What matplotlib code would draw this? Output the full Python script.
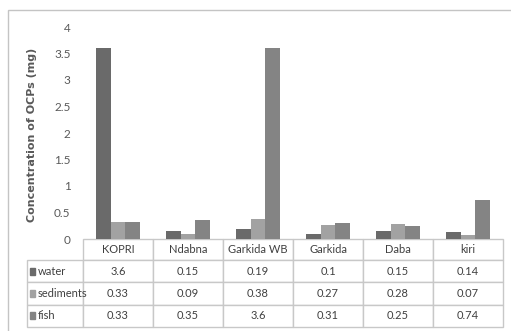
import matplotlib.pyplot as plt
import numpy as np
from matplotlib.table import Table
from matplotlib.patches import Rectangle

# Data
sites = ['KOPRI', 'Ndabna', 'Garkida WB', 'Garkida', 'Daba', 'kiri']
water = [3.6, 0.15, 0.19, 0.1, 0.15, 0.14]
sediments = [0.33, 0.09, 0.38, 0.27, 0.28, 0.07]
fish = [0.33, 0.35, 3.6, 0.31, 0.25, 0.74]
series_names = ['water', 'sediments', 'fish']
colors = ['#6a6a6a', '#a2a2a2', '#848484']

plt.rcParams['font.family'] = ['Lato', 'DejaVu Sans']

fig = plt.figure(figsize=(5.11, 3.31), dpi=100)
W, H = 511, 331
AW, AH = 420, 212
ax = fig.add_axes([83 / W, (H - 239) / H, AW / W, AH / H])

# outer chart border
fig.patches.append(Rectangle((8 / W, -0.05), 1.2, (H - 10) / H + 0.05,
                             transform=fig.transFigure, fill=False,
                             edgecolor='#c4c4c4', linewidth=1))

# Bars
x = np.arange(len(sites))
w = 0.21
all_series = [water, sediments, fish]
for i, vals in enumerate(all_series):
    ax.bar(x + (i - 1) * w, vals, width=w, color=colors[i], label=series_names[i])

ax.set_xlim(-0.5, len(sites) - 0.5)
ax.set_ylim(0, 4)
ax.set_yticks(np.arange(0, 4.01, 0.5))
ax.set_yticklabels(['0', '0.5', '1', '1.5', '2', '2.5', '3', '3.5', '4'])
ax.tick_params(axis='y', length=0, pad=9, labelsize=8.5, labelcolor='#595959')
ax.set_xticks([])
for s in ax.spines.values():
    s.set_visible(False)

fig.text(32 / W, (H - 135) / H, 'Concentration of OCPs (mg)', rotation=90,
         ha='center', va='center', fontsize=8, fontweight='bold',
         color='#595959', family='DejaVu Sans')

# Data table under the plot (sizes in axes fraction)
head_h = 21 / AH
row_h = 22.3 / AH
col_w = 70 / AW
lab_w = 56 / AW
tbl = Table(ax, bbox=[0, -(head_h + 3 * row_h), 1, head_h + 3 * row_h])
edge = '#c8c8c8'
txt_color = '#404040'
for j, name in enumerate(sites):
    c = tbl.add_cell(0, j, width=col_w, height=head_h, text=name, loc='center')
    c.set_edgecolor(edge)
    c.get_text().set_color(txt_color)
for i, vals in enumerate(all_series):
    c = tbl.add_cell(i + 1, -1, width=lab_w, height=row_h, text='')
    c.set_edgecolor(edge)
    for j, v in enumerate(vals):
        c = tbl.add_cell(i + 1, j, width=col_w, height=row_h, text=str(v), loc='center')
        c.set_edgecolor(edge)
        c.get_text().set_color(txt_color)
tbl.auto_set_font_size(False)
tbl.set_fontsize(8)
ax.add_table(tbl)

# legend keys and series names in the row label cells
for i in range(3):
    yc = -(head_h + (i + 0.5) * row_h)
    ax.add_patch(Rectangle(((30 - 83) / AW, yc - 3.5 / AH), 5.5 / AW, 7 / AH,
                           transform=ax.transAxes, color=colors[i], clip_on=False))
    ax.text((38 - 83) / AW, yc, series_names[i], transform=ax.transAxes,
            ha='left', va='center', fontsize=8, color=txt_color, clip_on=False)

fig.savefig('out.png', dpi=100)
